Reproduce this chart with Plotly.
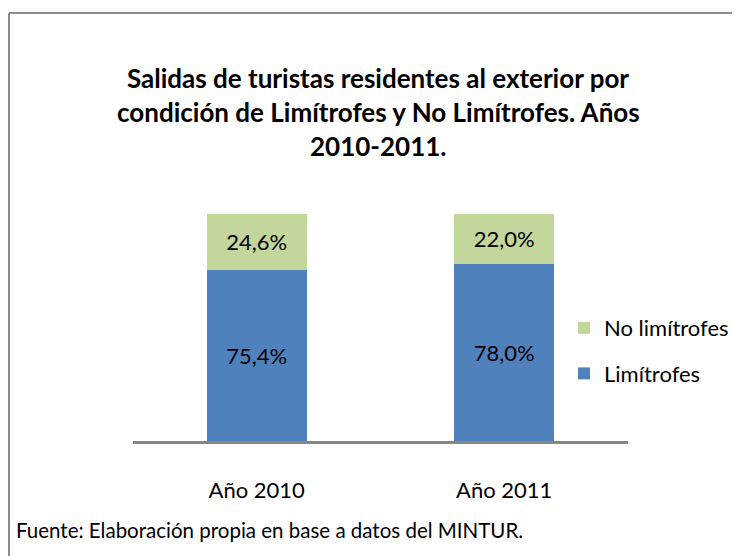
import plotly.graph_objects as go

categories = ["Año 2010", "Año 2011"]
limitrofes = [75.4, 78.0]
no_limitrofes = [24.6, 22.0]
series_names = ["Limítrofes", "No limítrofes"]
title_lines = [
    "Salidas de turistas residentes al exterior por",
    "condición de Limítrofes y No Limítrofes. Años",
    "2010-2011.",
]
footer = "Fuente: Elaboración propia en base a datos del MINTUR."

OFF = 8  # page body margin
W, H = 740 - 2 * OFF, 556 - OFF
L, T = 133 - OFF, 214 - OFF
R = W - (628 - OFF)
B = H - (441 - OFF)
PW = W - L - R
PH = H - T - B
FONT = "Lato, Calibri, Carlito, sans-serif"


def px_x(x):
    return (x - OFF - L) / PW


def px_y(y):
    return (H - B - (y - OFF)) / PH


fig = go.Figure()
fig.add_trace(go.Bar(
    x=categories, y=limitrofes, name=series_names[0],
    marker=dict(color="#4F81BD", line=dict(width=0)),
    texttemplate="%{y:.1f}%", textposition="inside",
    insidetextanchor="middle", textangle=0, constraintext="none",
    textfont=dict(family=FONT, size=22, color="black"),
    legendgroup="a", legendrank=2,
))
fig.add_trace(go.Bar(
    x=categories, y=no_limitrofes, name=series_names[1],
    marker=dict(color="#C3D69B", line=dict(width=0)),
    texttemplate="%{y:.1f}%", textposition="inside",
    insidetextanchor="middle", textangle=0, constraintext="none",
    textfont=dict(family=FONT, size=22, color="black"),
    legendgroup="b", legendrank=1,
))

annotations = []
for line, yc in zip(title_lines, [78, 112, 146]):
    annotations.append(dict(
        text="<b>" + line + "</b>", xref="paper", yref="paper",
        x=px_x(378), y=px_y(yc), xanchor="center", yanchor="middle",
        showarrow=False, font=dict(family=FONT, size=26, color="black"),
    ))
annotations.append(dict(
    text=footer, xref="paper", yref="paper",
    x=px_x(14), y=px_y(530), xanchor="left", yanchor="middle",
    showarrow=False, font=dict(family=FONT, size=20.5, color="black"),
))

frame = dict(color="#8c8c8c", width=2)
fig.update_layout(
    width=W, height=H,
    margin=dict(l=L, r=R, t=T, b=B, pad=0, autoexpand=False),
    barmode="stack", bargap=0.596,
    separators=",.",
    paper_bgcolor="white", plot_bgcolor="white",
    font=dict(family=FONT, color="black"),
    showlegend=True,
    legend=dict(
        x=px_x(564), y=px_y(351), xanchor="left", yanchor="middle",
        traceorder="grouped", tracegroupgap=14,
        font=dict(family=FONT, size=22, color="black"),
        bgcolor="rgba(0,0,0,0)", borderwidth=0,
    ),
    xaxis=dict(
        showline=True, linecolor="#868686", linewidth=3,
        showgrid=False, zeroline=False, ticks="",
        tickfont=dict(family=FONT, size=22, color="black"),
        ticklabelstandoff=28,
    ),
    yaxis=dict(range=[0, 100], visible=False, showgrid=False),
    annotations=annotations,
    shapes=[
        dict(type="line", xref="paper", yref="paper",
             x0=px_x(OFF + 1), x1=px_x(800), y0=px_y(13), y1=px_y(13),
             line=frame, layer="below"),
        dict(type="line", xref="paper", yref="paper",
             x0=px_x(OFF + 1), x1=px_x(OFF + 1), y0=px_y(13), y1=px_y(600),
             line=frame, layer="below"),
    ],
)

fig.write_html("out.html")
